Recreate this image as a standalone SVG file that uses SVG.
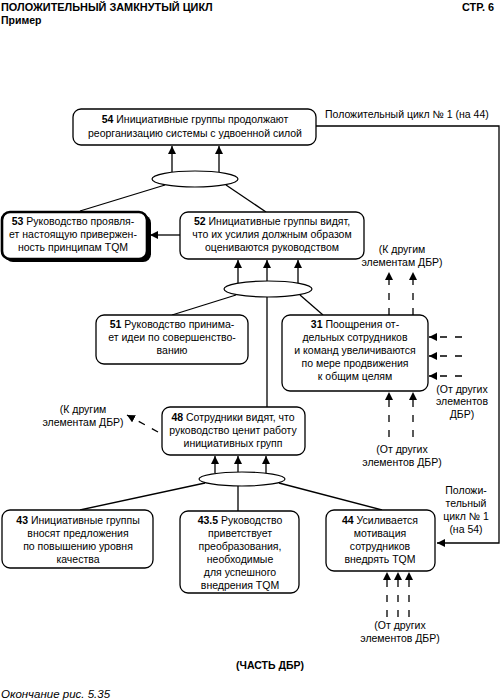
<svg xmlns="http://www.w3.org/2000/svg" width="500" height="700" viewBox="0 0 500 700">
<defs>
<style>
text{font-family:"Liberation Sans","DejaVu Sans",sans-serif;font-size:10.5px;fill:#000}
.c{text-anchor:middle}
.b{font-weight:bold}
.box{fill:#fff;stroke:#000;stroke-width:1.3}
.thick{fill:#fff;stroke:#000;stroke-width:2.6}
.ell{fill:#fff;stroke:#000;stroke-width:1.2}
.ln{fill:none;stroke:#000;stroke-width:1.3}
.ar{fill:none;stroke:#000;stroke-width:1.3;marker-end:url(#ah)}
.da{fill:none;stroke:#000;stroke-width:1.3;stroke-dasharray:7 8;marker-end:url(#ah)}
</style>
<marker id="ah" markerUnits="userSpaceOnUse" markerWidth="9" markerHeight="8" refX="8" refY="4" orient="auto">
<path d="M0,0 L8,4 L0,8 Z" fill="#000"/>
</marker>
</defs>
<rect width="500" height="700" fill="#fff"/>
<g id="header">
<text x="1" y="11" class="b" style="font-size:10.9px">ПОЛОЖИТЕЛЬНЫЙ ЗАМКНУТЫЙ ЦИКЛ</text>
<text x="494" y="11" class="b" style="text-anchor:end;font-size:10.9px">СТР. 6</text>
<text x="1" y="24" class="b">Пример</text>
</g>
<g id="connectors">
<polyline class="ar" points="316,126 499,126 499,543 437,543"/>
<line class="ar" x1="172" y1="172" x2="172" y2="146"/>
<line class="ar" x1="219" y1="172" x2="219" y2="146"/>
<line class="ln" x1="165" y1="185" x2="80" y2="211"/>
<line class="ln" x1="226" y1="185" x2="266" y2="212"/>
<line class="ar" x1="180" y1="235" x2="150" y2="235"/>
<line class="ar" x1="238" y1="283" x2="238" y2="260"/>
<line class="ar" x1="267" y1="281" x2="267" y2="260"/>
<line class="ar" x1="298" y1="283" x2="298" y2="260"/>
<line class="ln" x1="236" y1="295" x2="172" y2="315"/>
<line class="ln" x1="300" y1="295" x2="323" y2="315"/>
<line class="ln" x1="267" y1="297" x2="267" y2="407"/>
<line class="da" x1="389" y1="315" x2="389" y2="272"/>
<line class="da" x1="413" y1="315" x2="413" y2="272"/>
<line class="da" x1="462" y1="337" x2="429" y2="337"/>
<line class="da" x1="462" y1="356" x2="429" y2="356"/>
<line class="da" x1="462" y1="376" x2="429" y2="376"/>
<line class="da" x1="389" y1="437" x2="389" y2="392"/>
<line class="da" x1="413" y1="437" x2="413" y2="392"/>
<line class="da" x1="158" y1="432" x2="127" y2="415"/>
<line class="ar" x1="215" y1="473" x2="215" y2="456"/>
<line class="ar" x1="238" y1="472" x2="238" y2="456"/>
<line class="ar" x1="266" y1="473" x2="266" y2="456"/>
<line class="ln" x1="205" y1="483" x2="80" y2="510"/>
<line class="ln" x1="238" y1="486" x2="238" y2="511"/>
<line class="ln" x1="279" y1="483" x2="382" y2="510"/>
<line class="da" x1="387" y1="617" x2="387" y2="572"/>
<line class="da" x1="398" y1="617" x2="398" y2="572"/>
<line class="da" x1="409" y1="617" x2="409" y2="572"/>
</g>
<g id="junctions">
<ellipse class="ell" cx="195" cy="179" rx="43" ry="8"/>
<ellipse class="ell" cx="268" cy="289" rx="44" ry="8"/>
<ellipse class="ell" cx="242" cy="479" rx="43" ry="7"/>
</g>
<g id="n54">
<rect class="box" x="73" y="109" width="243" height="36" rx="8"/>
<text x="195" y="123" class="c"><tspan class="b">54</tspan> Инициативные группы продолжают</text>
<text x="195" y="137" class="c">реорганизацию системы с удвоенной силой</text>
</g>
<g id="n53">
<rect x="5" y="215" width="146" height="47" rx="8" fill="#000"/>
<rect class="thick" x="2" y="212" width="145" height="47" rx="8"/>
<text x="73" y="225" class="c"><tspan class="b">53</tspan> Руководство проявля-</text>
<text x="73" y="238" class="c">ет настоящую привержен-</text>
<text x="73" y="251" class="c">ность принципам TQM</text>
</g>
<g id="n52">
<rect class="box" x="180" y="212" width="184" height="47" rx="8"/>
<text x="272" y="225" class="c"><tspan class="b">52</tspan> Инициативные группы видят,</text>
<text x="272" y="238" class="c">что их усилия должным образом</text>
<text x="272" y="251" class="c">оцениваются руководством</text>
</g>
<g id="n51">
<rect class="box" x="96" y="315" width="152" height="49" rx="8"/>
<text x="172" y="328" class="c"><tspan class="b">51</tspan> Руководство принима-</text>
<text x="172" y="341" class="c">ет идеи по совершенство-</text>
<text x="172" y="354" class="c">ванию</text>
</g>
<g id="n31">
<rect class="box" x="282" y="315" width="146" height="76" rx="8"/>
<text x="355" y="328" class="c"><tspan class="b">31</tspan> Поощрения от-</text>
<text x="355" y="341" class="c">дельных сотрудников</text>
<text x="355" y="354" class="c">и команд увеличиваются</text>
<text x="355" y="367" class="c">по мере продвижения</text>
<text x="355" y="380" class="c">к общим целям</text>
</g>
<g id="n48">
<rect class="box" x="162" y="407" width="143" height="48" rx="8"/>
<text x="233" y="421" class="c"><tspan class="b">48</tspan> Сотрудники видят, что</text>
<text x="233" y="434" class="c">руководство ценит работу</text>
<text x="233" y="447" class="c">инициативных групп</text>
</g>
<g id="n43">
<rect class="box" x="2" y="510" width="151" height="58" rx="8"/>
<text x="78" y="524" class="c"><tspan class="b">43</tspan> Инициативные группы</text>
<text x="78" y="537" class="c">вносят предложения</text>
<text x="78" y="550" class="c">по повышению уровня</text>
<text x="78" y="563" class="c">качества</text>
</g>
<g id="n43_5">
<rect class="box" x="180" y="511" width="119" height="82" rx="8"/>
<text x="240" y="524" class="c"><tspan class="b">43.5</tspan> Руководство</text>
<text x="240" y="537" class="c">приветствует</text>
<text x="240" y="550" class="c">преобразования,</text>
<text x="240" y="563" class="c">необходимые</text>
<text x="240" y="576" class="c">для успешного</text>
<text x="240" y="589" class="c">внедрения TQM</text>
</g>
<g id="n44">
<rect class="box" x="326" y="510" width="109" height="61" rx="8"/>
<text x="380" y="524" class="c"><tspan class="b">44</tspan> Усиливается</text>
<text x="380" y="537" class="c">мотивация</text>
<text x="380" y="550" class="c">сотрудников</text>
<text x="380" y="563" class="c">внедрять TQM</text>
</g>
<g id="labels">
<text x="325" y="118">Положительный цикл № 1 (на 44)</text>
<text x="402" y="253" class="c">(К другим</text>
<text x="402" y="266" class="c">элементам ДБР)</text>
<text x="462" y="393" class="c">(От других</text>
<text x="462" y="405" class="c">элементов</text>
<text x="462" y="418" class="c">ДБР)</text>
<text x="402" y="453" class="c">(От других</text>
<text x="402" y="466" class="c">элементов ДБР)</text>
<text x="83" y="413" class="c">(К другим</text>
<text x="83" y="426" class="c">элементам ДБР)</text>
<text x="466" y="494" class="c">Положи-</text>
<text x="466" y="507" class="c">тельный</text>
<text x="466" y="520" class="c">цикл № 1</text>
<text x="466" y="533" class="c">(на 54)</text>
<text x="400" y="629" class="c">(От других</text>
<text x="400" y="642" class="c">элементов ДБР)</text>
<text x="270" y="669" class="c b">(ЧАСТЬ ДБР)</text>
<text x="1" y="698" style="font-style:italic;font-size:11.5px">Окончание рис. 5.35</text>
</g>
</svg>
